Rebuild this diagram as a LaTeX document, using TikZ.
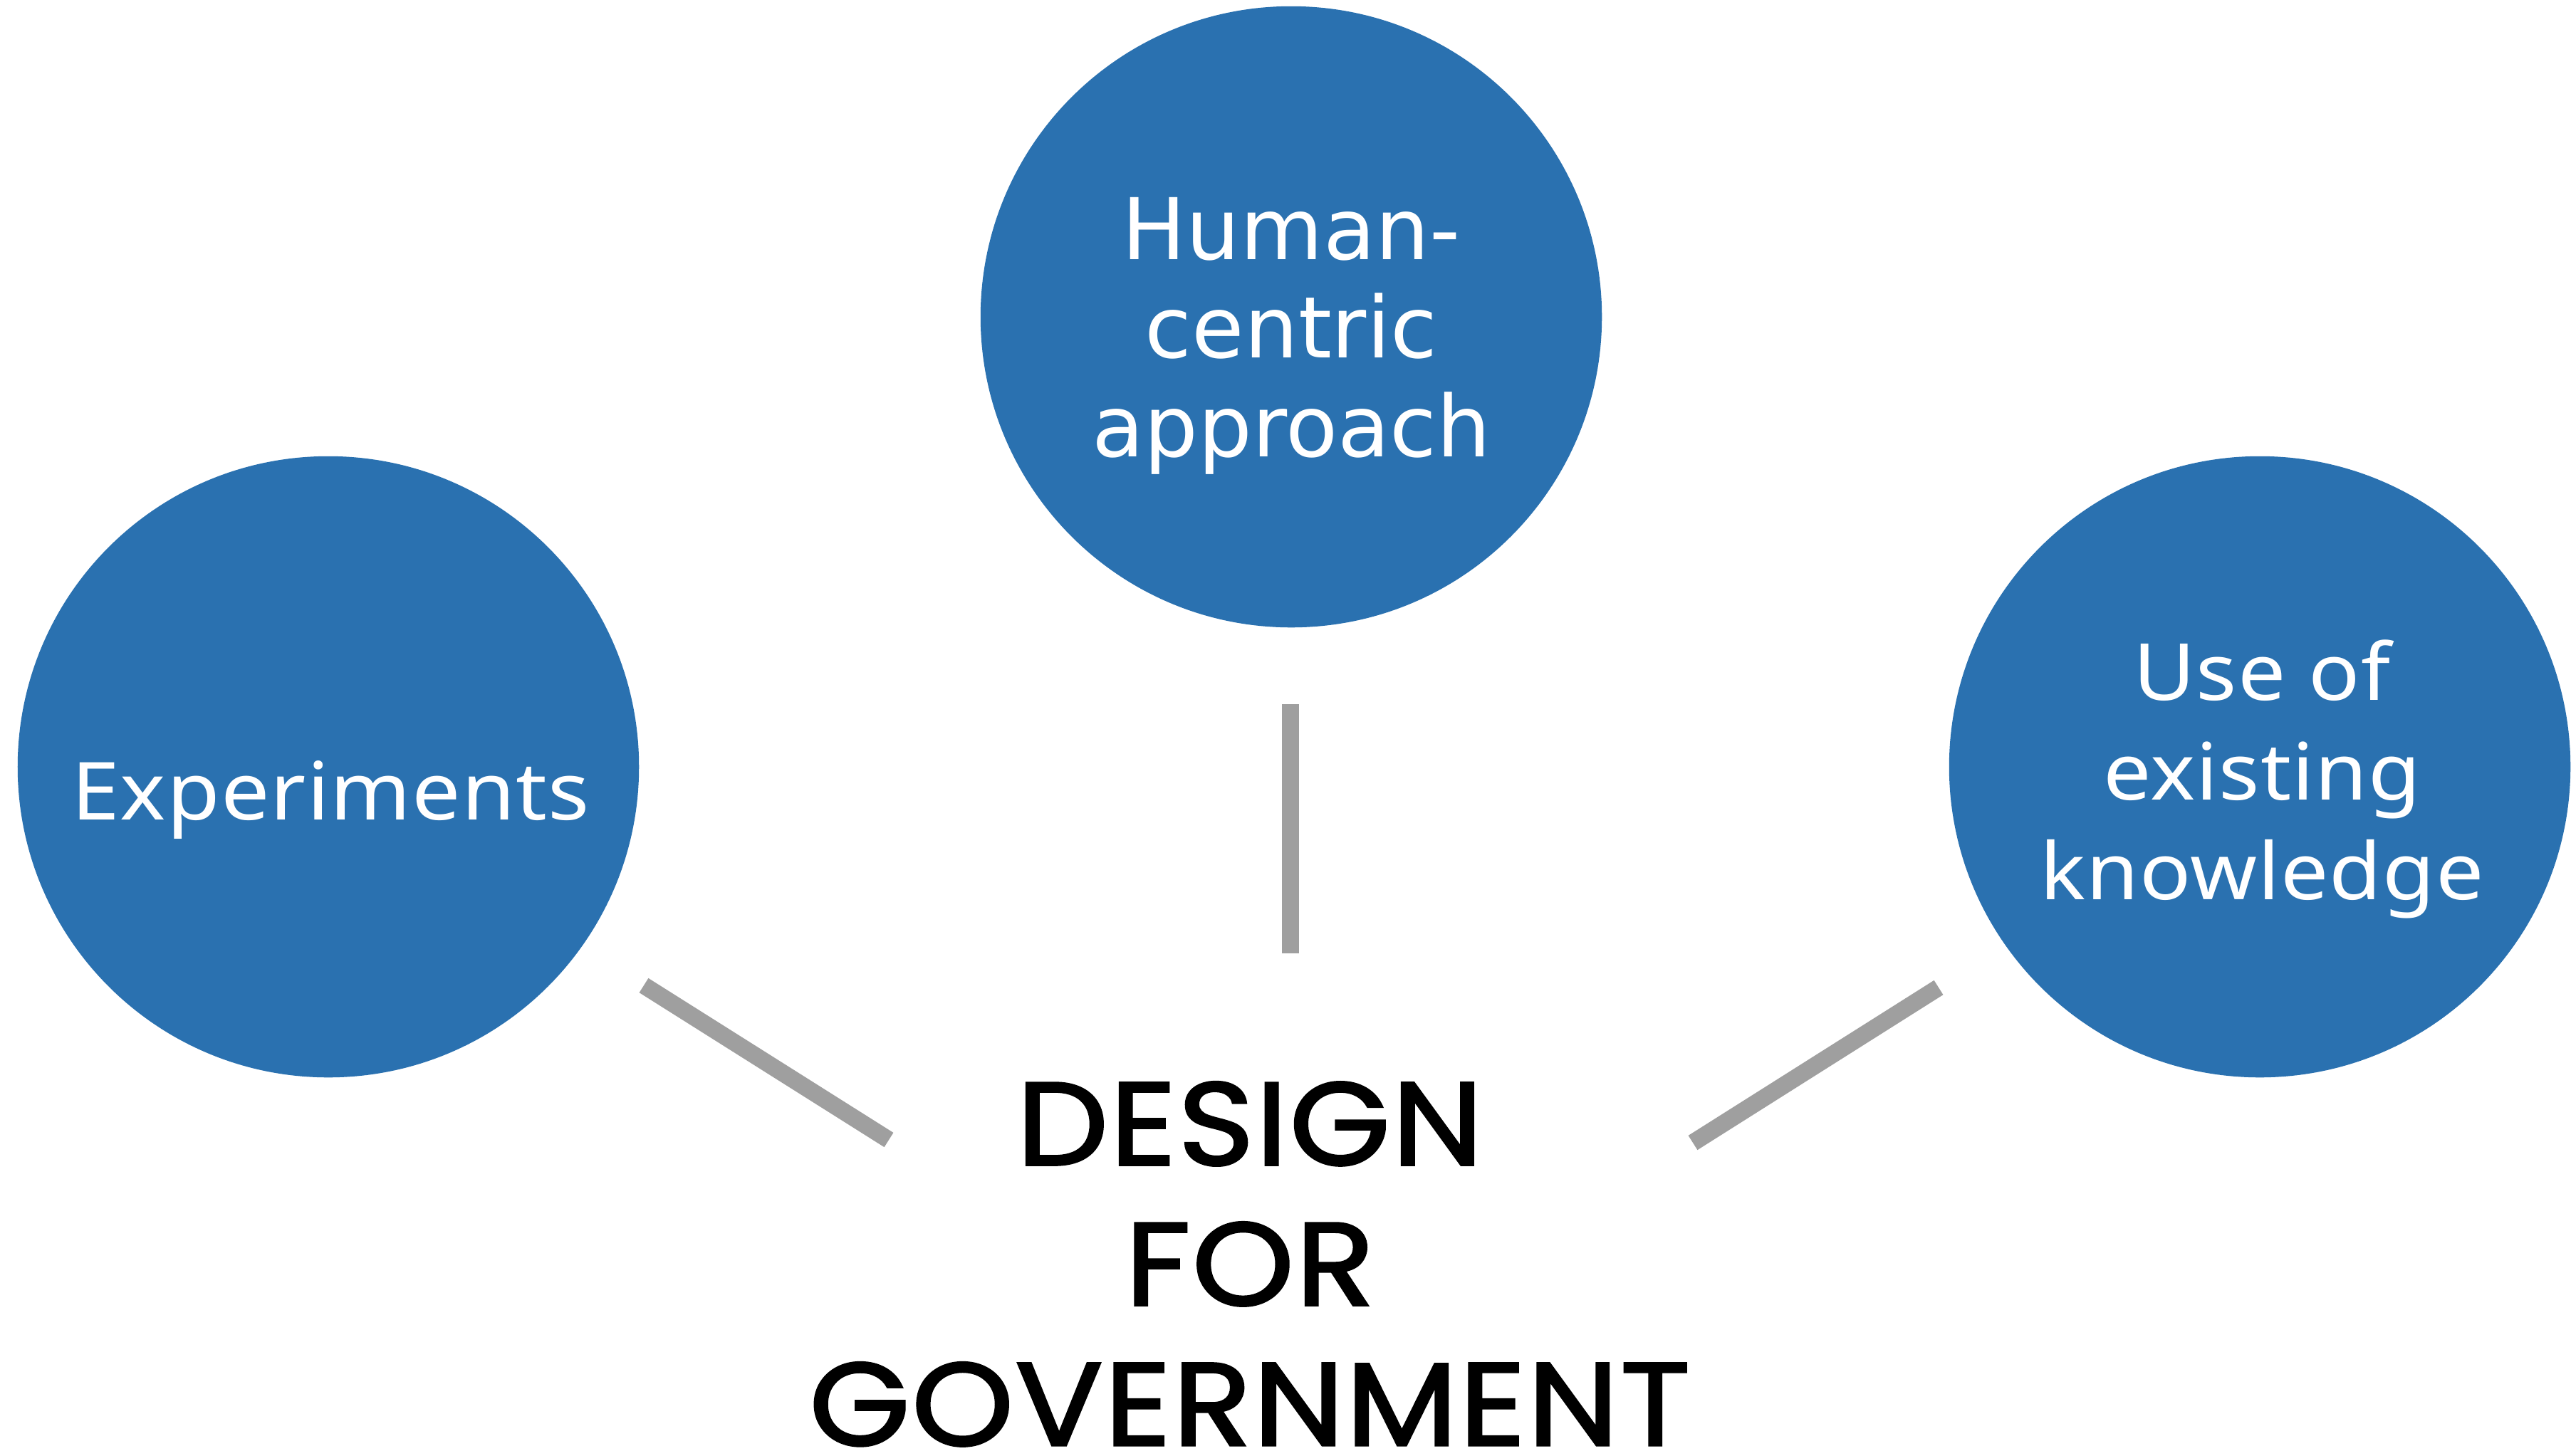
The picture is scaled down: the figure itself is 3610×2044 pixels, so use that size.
\documentclass[tikz,border=0pt]{standalone}
\usepackage{fontspec}
\setmainfont{Poppins}
\newfontfamily\dgfont[FakeStretch=1.1,FakeBold=2,LetterSpace=1.5]{Poppins}
\newfontfamily\topfont{DejaVu Sans}
\newfontfamily\sidefont[FakeStretch=1.08,LetterSpace=1]{Noto Sans}
\definecolor{cblue}{HTML}{2A71B0}
\definecolor{cgray}{HTML}{9F9F9F}
\begin{document}
\begin{tikzpicture}[x=0.01cm,y=-0.01cm,
  bubble/.style={circle,fill=cblue,minimum size=8.72cm,inner sep=0pt},
  bubbletext/.style={text=white,align=center,inner sep=0pt,anchor=base},
  link/.style={draw=cgray,line width=0.24cm}]
\useasboundingbox (0,0) rectangle (3610,2044);
% circles
\node[bubble] (hc) at (1813,445) {};
\node[bubble] (ex) at (461,1077) {};
\node[bubble] (uk) at (3173,1077) {};
% texts
\node[bubbletext,font=\topfont\fontsize{34}{39.3}\selectfont] (hct) at (1813,641) {Human-\\centric\\approach};
\node[bubbletext,font=\sidefont\fontsize{32}{39.5}\selectfont] (ext) at (464,1151) {Experiments};
\node[bubbletext,font=\sidefont\fontsize{31.5}{39.8}\selectfont] (ukt) at (3176,1263) {Use of\\existing\\knowledge};
\node[align=center,inner sep=0pt,anchor=base,font=\dgfont\fontsize{47}{56}\selectfont] (dg) at (1755,2030) {DESIGN\\FOR\\GOVERNMENT};
% connectors
\coordinate (v1) at (1812,989);
\coordinate (v2) at (1812,1339);
\coordinate (l1) at (904,1384);
\coordinate (l2) at (1248,1601);
\coordinate (r1) at (2722,1387);
\coordinate (r2) at (2377,1605);
\draw[link] (v1) -- (v2);
\draw[link] (l1) -- (l2);
\draw[link] (r1) -- (r2);
\end{tikzpicture}
\end{document}
